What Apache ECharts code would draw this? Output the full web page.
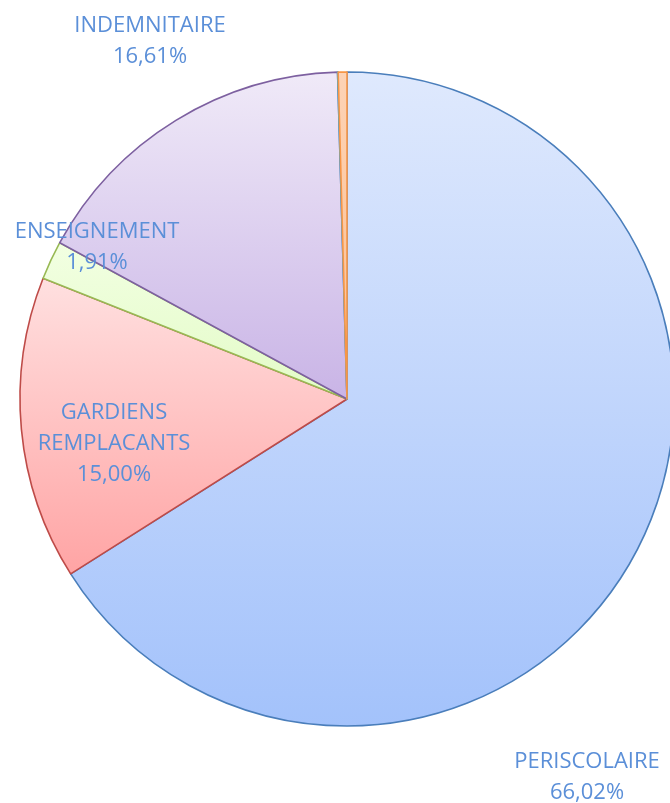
<!DOCTYPE html>
<html><head><meta charset="utf-8">
<script src="https://cdn.jsdelivr.net/npm/echarts@6/dist/echarts.min.js"></script>
<style>html,body{margin:0;padding:0;background:#fff}#c{width:670px;height:803px}</style>
</head><body><div id="c"></div>
<script>
var categories = ['PERISCOLAIRE', 'GARDIENS\nREMPLACANTS', 'ENSEIGNEMENT', 'INDEMNITAIRE', '', ''];
var values = [66.02, 15.00, 1.91, 16.61, 0.03, 0.43];
var labelText = ['66,02%', '15,00%', '1,91%', '16,61%', '', ''];

var fills = [
  ['#dfe9fd', '#a3c2fb'],
  ['#ffe0e0', '#ffa4a4'],
  ['#f2ffe2', '#e3fbc7'],
  ['#f0eaf8', '#c9b4e6'],
  ['#cfeef5', '#9fdcea'],
  ['#fdd3b5', '#fbbf93']
];
var strokes = ['#4a7ebb', '#be4b48', '#98b954', '#7d60a0', '#4bacc6', '#f79646'];
var labelPos = [[587, 777], [114, 444], [97, 247], [150, 41], null, null];

var data = values.map(function (v, i) {
  return {
    name: categories[i], value: v,
    itemStyle: {
      color: new echarts.graphic.LinearGradient(0, 0, 0, 1, [
        {offset: 0, color: fills[i][0]}, {offset: 1, color: fills[i][1]}]),
      borderColor: strokes[i], borderWidth: 1.6
    },
    label: {show: !!categories[i], formatter: categories[i] + '\n' + labelText[i]}
  };
});

var chart = echarts.init(document.getElementById('c'), null, {renderer: 'canvas'});
chart.setOption({
  animation: false,
  series: [{
    type: 'pie',
    center: [347, 399],
    radius: 327,
    startAngle: 90,
    clockwise: true,
    minAngle: 0,
    avoidLabelOverlap: false,
    data: data,
    label: {
      position: 'inside',
      color: '#5b8fd8',
      fontFamily: 'Open Sans',
      fontSize: 22,
      lineHeight: 31,
      align: 'center'
    },
    labelLine: {show: false},
    labelLayout: function (p) {
      var pos = labelPos[p.dataIndex];
      if (!pos) return {};
      return {x: pos[0], y: pos[1], align: 'center', verticalAlign: 'middle', draggable: false};
    },
    emphasis: {disabled: true}
  }]
});
</script></body></html>
